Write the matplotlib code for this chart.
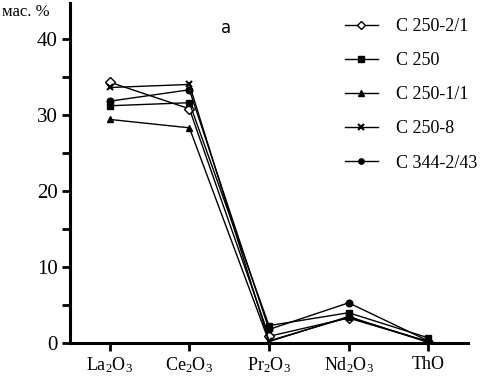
import matplotlib
matplotlib.use("Agg")
import matplotlib.pyplot as plt

plt.rcParams['font.family'] = ['Liberation Serif', 'DejaVu Serif']
plt.rcParams['mathtext.fontset'] = 'custom'
plt.rcParams['mathtext.rm'] = 'Liberation Serif'
plt.rcParams['mathtext.it'] = 'Liberation Serif'

categories = [r'La$_2$O$_3$', r'Ce$_2$O$_3$', r'Pr$_2$O$_3$', r'Nd$_2$O$_3$', 'ThO']
series_names = ['C 250-2/1', 'C 250', 'C 250-1/1', 'C 250-8', 'C 344-2/43']
s_250_2_1 = [34.3, 30.8, 0.9, 3.3, 0.2]
s_250 = [31.2, 31.6, 2.3, 4.0, 0.7]
s_250_1_1 = [29.4, 28.3, 0.2, 3.5, 0.1]
s_250_8 = [33.6, 34.0, 0.3, 3.4, 0.2]
s_344_2_43 = [31.8, 33.3, 1.8, 5.3, 0.3]
values = [s_250_2_1, s_250, s_250_1_1, s_250_8, s_344_2_43]
yticks = [0, 10, 20, 30, 40]

styles = [
    dict(marker='D', markersize=5.5, markerfacecolor='white', markeredgecolor='black', markeredgewidth=1.0),
    dict(marker='s', markersize=4.8, markerfacecolor='black', markeredgecolor='black'),
    dict(marker='^', markersize=5, markerfacecolor='black', markeredgecolor='black'),
    dict(marker='x', markersize=5, markeredgecolor='black', markeredgewidth=1.5),
    dict(marker='o', markersize=4.8, markerfacecolor='black', markeredgecolor='black'),
]

fig = plt.figure(figsize=(4.86, 3.80), dpi=100)
ax = fig.add_axes([0.144, 0.097, 0.819, 0.895])

x = list(range(len(categories)))
for name, vals, st in zip(series_names, values, styles):
    ax.plot(x, vals, color='black', linewidth=1.0, label=name, **st)

ax.set_xlim(-0.5, 4.5)
ax.set_ylim(0, 44.7)
ax.set_xticks(x)
ax.set_xticklabels(categories, fontsize=13)
ax.set_yticks(yticks)
ax.set_yticklabels([str(v) for v in yticks], fontsize=15)
ax.set_yticks([5, 15, 25, 35], minor=True)
ax.tick_params(axis='both', which='major', direction='out', width=2, length=6, pad=3)
ax.tick_params(axis='y', which='minor', direction='out', width=2, length=6)
ax.tick_params(axis='x', pad=3)
for s in ['top', 'right']:
    ax.spines[s].set_visible(False)
for s in ['left', 'bottom']:
    ax.spines[s].set_linewidth(2.2)

leg = ax.legend(loc='upper left', bbox_to_anchor=(345 / 486, 1 - 18 / 380),
                bbox_transform=fig.transFigure, frameon=False, fontsize=13,
                handlelength=1.8, handletextpad=1.0, labelspacing=0.95,
                borderaxespad=0, borderpad=0, markerscale=0.8)

fig.text(2 / 486, 1 - 12 / 380, 'мас. %', fontsize=12, ha='left', va='center')
fig.text(226 / 486, 1 - 28 / 380, 'а', fontsize=12, ha='center', va='center',
         family=['DejaVu Sans'])

fig.savefig('out.png', dpi=100)
